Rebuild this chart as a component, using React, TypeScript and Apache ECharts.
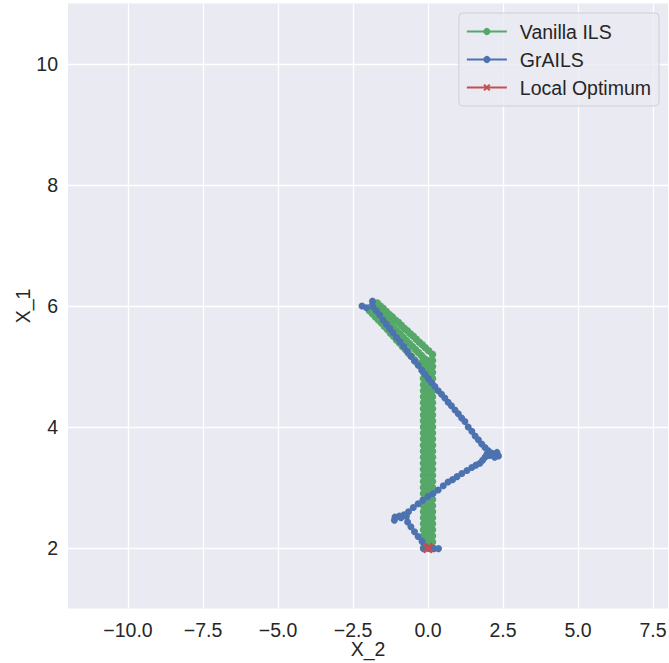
import React, { useEffect, useRef } from "react";
import * as echarts from "echarts";

// ---- data ----
const xTickValues = [-10, -7.5, -5, -2.5, 0, 2.5, 5, 7.5];
const yTickValues = [2, 4, 6, 8, 10];

// Vanilla ILS: three diagonal rows of steps, then three vertical columns
const vanillaDiagUpper: [number, number][] = [
  [-1.69, 6.05], [-1.59, 6.0], [-1.49, 5.96], [-1.39, 5.91], [-1.29, 5.86],
  [-1.19, 5.82], [-1.09, 5.77], [-0.99, 5.73], [-0.89, 5.68], [-0.79, 5.63],
  [-0.69, 5.59], [-0.59, 5.54], [-0.49, 5.5], [-0.39, 5.45], [-0.29, 5.4],
  [-0.19, 5.36], [-0.09, 5.31], [0.02, 5.26], [0.15, 5.2],
];
const vanillaDiagMiddle: [number, number][] = [
  [-1.82, 5.98], [-1.72, 5.93], [-1.62, 5.88], [-1.52, 5.83], [-1.42, 5.78],
  [-1.32, 5.73], [-1.22, 5.68], [-1.12, 5.63], [-1.02, 5.58], [-0.92, 5.53],
  [-0.82, 5.48], [-0.72, 5.43], [-0.62, 5.38], [-0.52, 5.33], [-0.42, 5.28],
  [-0.32, 5.23], [-0.22, 5.18], [-0.12, 5.13], [0.0, 5.08],
];
const vanillaDiagLower: [number, number][] = [
  [-1.95, 5.92], [-1.85, 5.87], [-1.75, 5.82], [-1.65, 5.77], [-1.55, 5.72],
  [-1.45, 5.66], [-1.35, 5.61], [-1.25, 5.55], [-1.15, 5.5], [-1.05, 5.44],
  [-0.95, 5.39], [-0.85, 5.33], [-0.75, 5.28], [-0.65, 5.22], [-0.55, 5.17],
  [-0.45, 5.11], [-0.35, 5.06], [-0.25, 5.01], [-0.15, 4.97],
];
const vanillaColumnX = [0.15, 0.0, -0.15];
const vanillaColumnY = [
  5.1, 5.0, 4.9, 4.8, 4.7, 4.6, 4.5, 4.4, 4.3, 4.2, 4.1, 4.0, 3.9, 3.8, 3.7, 3.6,
  3.5, 3.4, 3.3, 3.2, 3.1, 3.0, 2.9, 2.8, 2.7, 2.6, 2.5, 2.4, 2.3, 2.2, 2.1, 2.0,
];

const grailsPath: [number, number][] = [
  [-2.2, 6.0], [-2.05, 5.97], [-1.85, 6.08], [-1.84, 5.99], [-1.72, 5.92],
  [-1.61, 5.85], [-1.5, 5.77], [-1.39, 5.7], [-1.28, 5.63], [-1.17, 5.56],
  [-1.05, 5.48], [-0.93, 5.41], [-0.81, 5.33], [-0.69, 5.25], [-0.57, 5.17],
  [-0.45, 5.09], [-0.33, 5.02], [-0.21, 4.94], [-0.1, 4.87], [0.01, 4.8],
  [0.12, 4.73], [0.23, 4.67], [0.34, 4.6], [0.45, 4.54], [0.56, 4.48],
  [0.67, 4.41], [0.78, 4.35], [0.9, 4.28], [1.01, 4.22], [1.12, 4.15],
  [1.23, 4.09], [1.34, 4.0], [1.46, 3.93], [1.57, 3.85], [1.68, 3.79],
  [1.79, 3.72], [1.9, 3.66], [2.0, 3.61], [1.96, 3.55], [2.12, 3.57],
  [2.3, 3.58], [2.35, 3.52], [2.22, 3.5], [2.05, 3.53], [1.9, 3.5],
  [1.82, 3.45], [1.73, 3.4], [1.6, 3.37], [1.46, 3.33], [1.3, 3.28],
  [1.13, 3.23], [0.97, 3.18], [0.82, 3.13], [0.67, 3.09], [0.51, 3.03],
  [0.34, 2.96], [0.17, 2.9], [0.0, 2.85], [-0.17, 2.79], [-0.33, 2.73],
  [-0.49, 2.67], [-0.65, 2.6], [-0.8, 2.55], [-0.95, 2.53], [-1.1, 2.51],
  [-1.12, 2.46], [-0.9, 2.5], [-0.72, 2.52], [-0.68, 2.43], [-0.57, 2.35],
  [-0.45, 2.27], [-0.33, 2.19], [-0.2, 2.11], [-0.1, 2.03], [-0.15, 1.99],
  [0.05, 1.99], [0.2, 1.99], [0.35, 1.99],
];

const localOptimum: [number, number][] = [[0.0, 2.0]];

// ---- styling ----
const GREEN = "#55a868";
const BLUE = "#4c72b0";
const RED = "#c44e52";
const TEXT = "#262626";
const FONT = "'Liberation Sans', Arial, Helvetica, sans-serif";
const FS = 19.5;
const X_SYMBOL =
  "path://M0,2 L2,0 L5,3 L8,0 L10,2 L7,5 L10,8 L8,10 L5,7 L2,10 L0,8 L3,5 Z";

function buildVanillaPath(): [number, number][] {
  const col = (x: number, ys: number[]) => ys.map((y) => [x, y] as [number, number]);
  const down = vanillaColumnY;
  const up = [...vanillaColumnY].reverse();
  return [
    ...vanillaDiagUpper,
    ...col(vanillaColumnX[0], down),
    ...col(vanillaColumnX[1], up),
    ...[...vanillaDiagMiddle].reverse(),
    ...vanillaDiagLower,
    ...col(vanillaColumnX[2], down),
  ];
}

const fmtX = (v: number) => (v < 0 ? "\u2212" : "") + Math.abs(v).toFixed(1);
const fmtY = (v: number) => String(v);

export default function App() {
  const ref = useRef<HTMLDivElement>(null);

  useEffect(() => {
    if (!ref.current) return;
    const chart = echarts.init(ref.current, null, { renderer: "svg" });
    const option: any = {
      animation: false,
      backgroundColor: "#ffffff",
      textStyle: { fontFamily: FONT },
      grid: {
        left: 68,
        right: 1,
        top: 3.5,
        bottom: 54.5,
        show: true,
        backgroundColor: "#eaeaf2",
        borderWidth: 0,
        containLabel: false,
        outerBoundsMode: "none",
      },
      legend: {
        orient: "vertical",
        right: 10,
        top: 13,
        align: "left",
        backgroundColor: "rgba(234,234,242,0.8)",
        borderColor: "#cfcfd8",
        borderWidth: 1,
        borderRadius: 4,
        padding: [8, 8, 8, 7],
        itemWidth: 40,
        itemHeight: 9,
        itemGap: 7,
        textStyle: {
          fontSize: FS,
          color: TEXT,
          fontFamily: FONT,
          padding: [0, 0, 0, 8],
          lineHeight: 21,
        },
        data: ["Vanilla ILS", "GrAILS", "Local Optimum"],
      },
      xAxis: {
        type: "value",
        min: -12,
        max: 8,
        name: "X_2",
        nameLocation: "middle",
        nameGap: 30,
        nameMoveOverlap: false,
        nameTextStyle: { fontSize: FS, color: TEXT, fontFamily: FONT, verticalAlign: "top" },
        axisLine: { show: false },
        axisTick: { show: false, customValues: xTickValues },
        axisLabel: {
          customValues: xTickValues,
          formatter: fmtX,
          fontSize: FS,
          color: TEXT,
          fontFamily: FONT,
          margin: 11,
        },
        splitLine: { show: true, lineStyle: { color: "#ffffff", width: 1.3 } },
      },
      yAxis: {
        type: "value",
        min: 1,
        max: 11,
        name: "X_1",
        nameLocation: "middle",
        nameGap: 35,
        nameMoveOverlap: false,
        nameRotate: 90,
        nameTextStyle: { fontSize: FS, color: TEXT, fontFamily: FONT },
        axisLine: { show: false },
        axisTick: { show: false, customValues: yTickValues },
        axisLabel: {
          customValues: yTickValues,
          formatter: fmtY,
          fontSize: FS,
          color: TEXT,
          fontFamily: FONT,
          margin: 10,
        },
        splitLine: { show: true, lineStyle: { color: "#ffffff", width: 1.3 } },
      },
      series: [
        {
          type: "line",
          name: "Vanilla ILS",
          data: buildVanillaPath(),
          symbol: "circle",
          symbolSize: 7.5,
          showAllSymbol: true,
          itemStyle: { color: GREEN },
          lineStyle: { color: GREEN, width: 1.5 },
          z: 2,
        },
        {
          type: "line",
          name: "GrAILS",
          data: grailsPath,
          symbol: "circle",
          symbolSize: 7,
          showAllSymbol: true,
          itemStyle: { color: BLUE },
          lineStyle: { color: BLUE, width: 1.5 },
          z: 3,
        },
        {
          type: "line",
          name: "Local Optimum",
          data: localOptimum,
          symbol: X_SYMBOL,
          symbolSize: 11,
          itemStyle: { color: RED },
          lineStyle: { color: RED, width: 1.5 },
          z: 4,
        },
      ],
    };
    chart.setOption(option);
    return () => chart.dispose();
  }, []);

  return (
    <div
      ref={ref}
      style={{ position: "fixed", left: 0, top: 0, width: 669, height: 663 }}
    />
  );
}
